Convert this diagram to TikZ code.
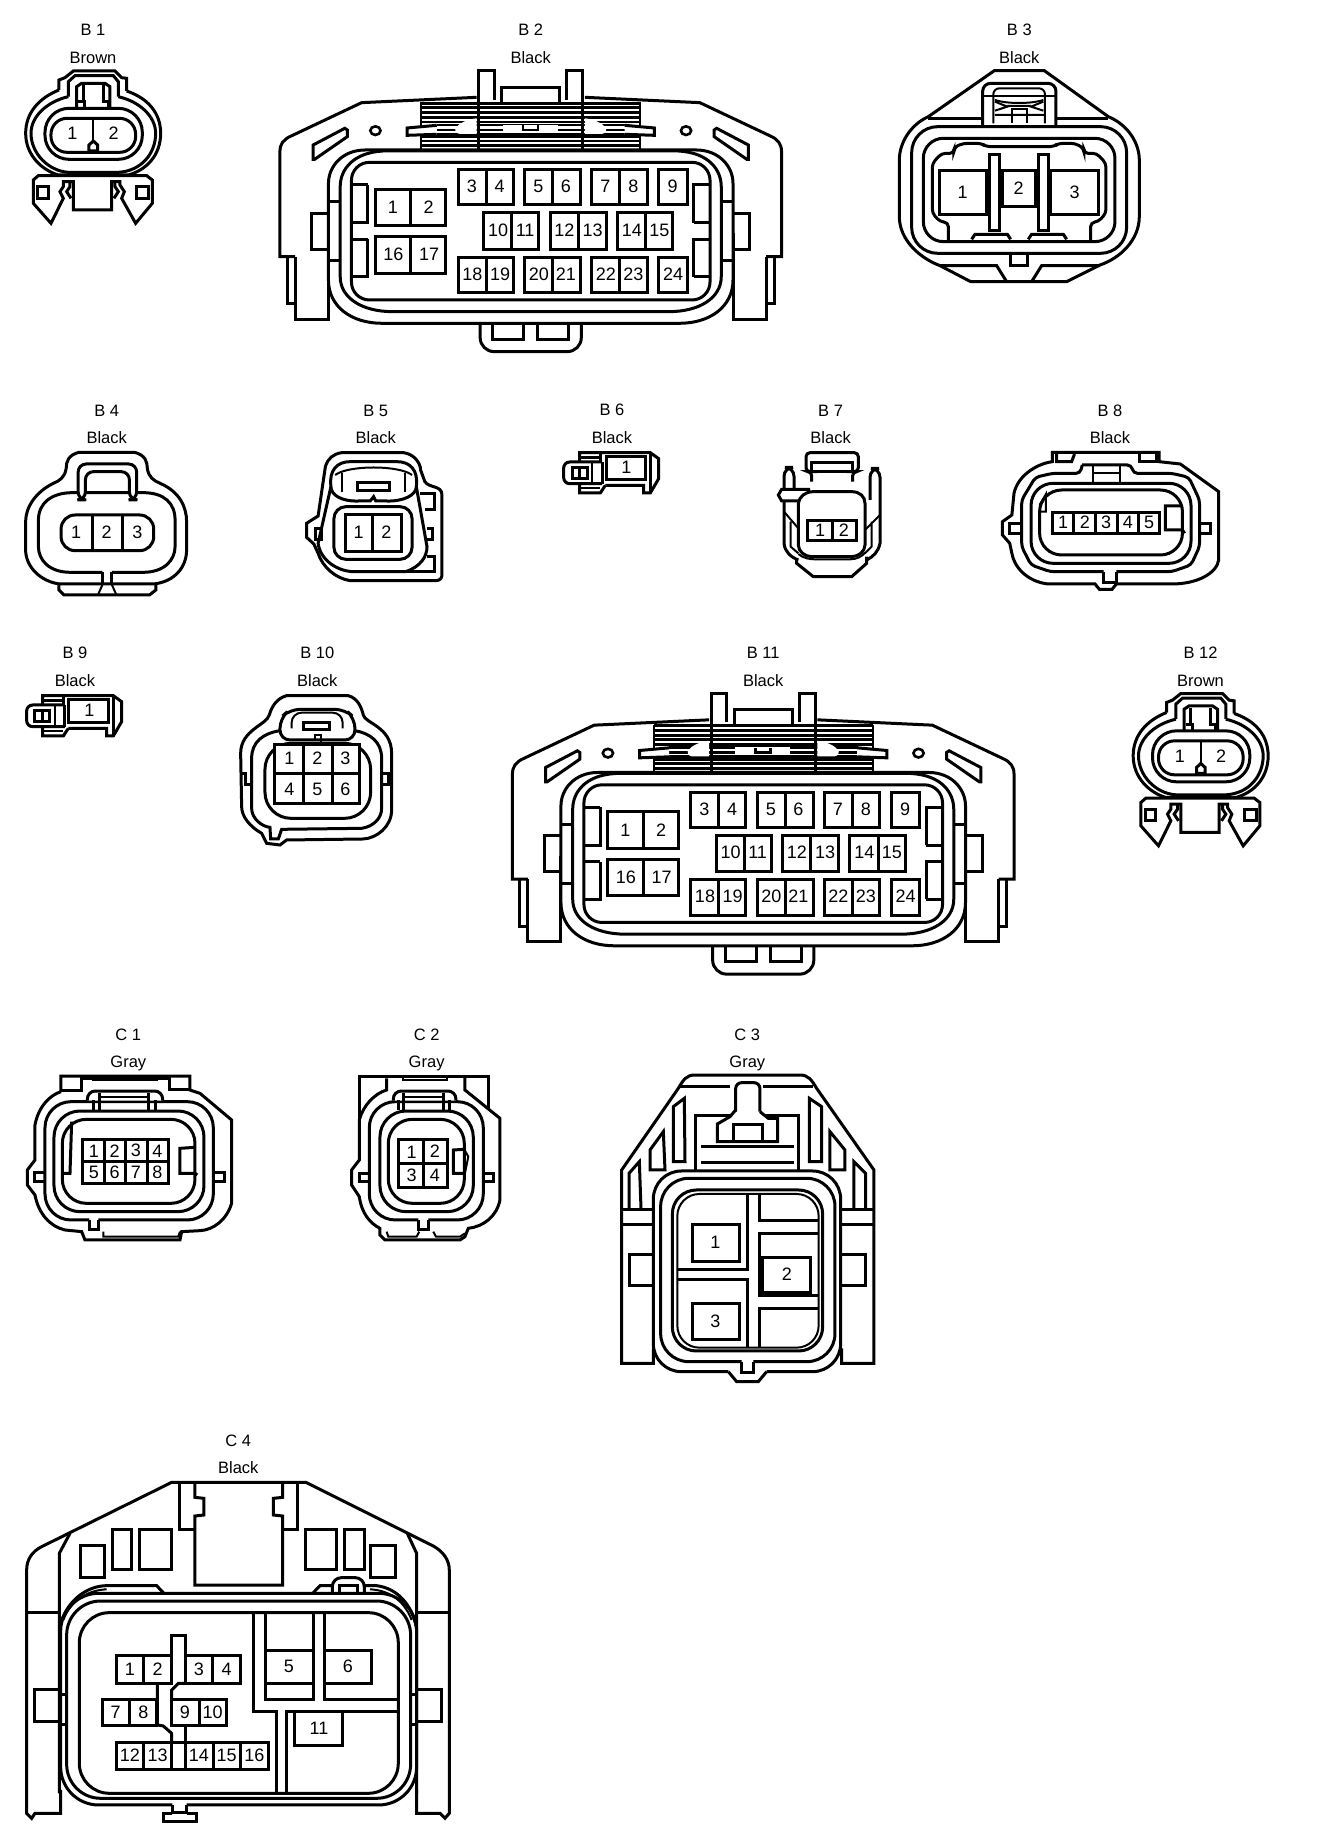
\documentclass[tikz,border=0pt]{standalone}
\usepackage{fontspec}
\setmainfont{Liberation Sans}
\tikzset{
  ttl/.style={inner sep=0pt,font=\fontsize{16.5}{18}\selectfont,text height=15.5pt,text depth=3pt},
  pin/.style={inner sep=0pt,font=\fontsize{18}{20}\selectfont},
  thin line/.style={line width=2pt},
  zone/.style={x=0.5108pt,y=-0.3333pt},
  ztri/.style={x=0.3333pt,y=-0.3333pt},
  zthree/.style={x=0.427pt,y=-0.3333pt},
  zfour/.style={x=0.4265pt,y=-0.3333pt}
}
\newcommand{\conBone}[5]{%
\begin{scope}[ztri,xshift=#2pt+15pt,yshift=-#3pt-65pt]
\node[ttl] (#1t) at (234,-107) {#4};
\node[ttl] (#1c) at (234,-23) {#5};
\draw (132,75) .. controls (70,100) and (32,145) .. (32,205) .. controls (32,270) and (80,315) .. (130,330) -- (340,330) .. controls (395,315) and (437,270) .. (437,205) .. controls (437,145) and (400,100) .. (335,78);
\draw (160,95) .. controls (95,110) and (48,155) .. (48,205) .. controls (48,265) and (100,318) .. (160,322) -- (310,322) .. controls (380,318) and (422,265) .. (422,205) .. controls (422,155) and (375,110) .. (310,95);
\draw (132,75)--(132,45)--(150,38)--(175,18)--(300,18)--(320,38)--(335,40)--(335,78);
\draw (160,95)--(160,50)--(180,32)--(295,32)--(310,50)--(310,95);
\draw (185,130)--(185,65)--(200,55)--(270,55)--(285,65)--(285,130);
\draw (205,60)--(205,110) (265,60)--(265,110);
\draw (190,110)--(210,110)--(210,130) (260,110)--(280,110)--(280,130);
\draw[fill=white,rounded corners=24pt] (90,130) rectangle (382,283);
\draw[rounded corners=16pt] (108,160) rectangle (362,262);
\draw[thin line] (235,160)--(235,235);
\draw[fill=white] (222,258)--(222,240)--(235,228)--(248,240)--(248,258)--cycle;
\node[pin] (#1p1) at (172,205) {1};
\node[pin] (#1p2) at (296,205) {2};
\draw (55,345)--(70,332)--(395,332)--(412,345)--(412,415)--(362,475)--(320,400)--(328,380)--(315,360)--(315,350)--(290,350)--(290,435)--(175,435)--(175,350)--(145,350)--(145,365)--(135,380)--(145,400)--(108,475)--(55,415)--cycle;
\draw (165,350)--(165,365)--(155,380)--(168,400);
\draw (300,350)--(300,365)--(310,380)--(297,400);
\draw (68,365) rectangle (100,400);
\draw (365,365) rectangle (402,400);
\end{scope}}
\newcommand{\conBtwo}[5]{%
\begin{scope}[zone,xshift=#2pt,yshift=-#3pt]
\node[ttl] (#1t) at (1039,88) {#4};
\node[ttl] (#1c) at (1039,172) {#5};
\draw (937,300)--(937,212)--(968,212)--(968,300);
\draw (1110,300)--(1110,212)--(1141,212)--(1141,300);
\draw (982,305)--(982,262)--(1096,262)--(1096,305);
\draw (578,770)--(548,770)--(548,455) .. controls (548,432) and (555,418) .. (570,408)--(708,308)--(933,292);
\draw (1500,770)--(1530,770)--(1530,455) .. controls (1530,432) and (1523,418) .. (1508,408)--(1370,308)--(1145,292);
\draw (562,770)--(562,912)--(578,912);
\draw (578,770)--(578,958)--(643,958)--(643,700);
\draw (1516,770)--(1516,912)--(1500,912);
\draw (1500,770)--(1500,958)--(1435,958)--(1435,700);
\foreach \yy in {310,323,338,352,366,410,423,437,450}{\draw[line width=2.7pt] (825,\yy)--(1253,\yy);}
\foreach \yy in {375,390,402}{\draw[line width=2.7pt] (855,\yy)--(1225,\yy);}
\draw[thin line] (825,307)--(825,450) (1253,307)--(1253,450);
\fill[white] (891,385) .. controls (900,368) and (915,358) .. (933,355)--(933,402)--(900,402) .. controls (893,400) and (889,392) .. (891,385)--cycle;
\fill[white] (1187,385) .. controls (1178,368) and (1163,358) .. (1145,355)--(1145,402)--(1178,402) .. controls (1185,400) and (1189,392) .. (1187,385)--cycle;
\draw (937,296)--(937,450) (1141,296)--(1141,450);
\draw[fill=white] (855,376)--(797,384)--(797,406)--(855,403);
\draw[fill=white] (1223,376)--(1281,384)--(1281,406)--(1223,403);
\fill[white] (984,375) rectangle (1092,402);
\draw[thin line] (984,402)--(1092,402);
\draw[line width=2.4pt] (1024,376)--(1024,390)--(1053,390)--(1053,376);
\draw[line width=2.6pt] (735,392) ellipse (10 and 13);
\draw[line width=2.6pt] (1343,392) ellipse (10 and 13);
\draw (613,478)--(613,435)--(675,385)--(680,390)--(680,410)--(616,478)--cycle;
\draw (1465,478)--(1465,435)--(1403,385)--(1398,390)--(1398,410)--(1462,478)--cycle;
\draw (643,640)--(610,640)--(610,748)--(643,748);
\draw (1435,640)--(1468,640)--(1468,748)--(1435,748);
\draw[fill=white] (643,550) .. controls (643,500) and (670,450) .. (715,450)--(1363,450) .. controls (1408,450) and (1435,500) .. (1435,550)--(1435,840) .. controls (1435,920) and (1390,970) .. (1330,970)--(748,970) .. controls (688,970) and (643,920) .. (643,840)--cycle;
\draw (666,560) .. controls (666,510) and (690,458) .. (750,453)--(1328,453) .. controls (1388,458) and (1412,510) .. (1412,560)--(1412,830) .. controls (1412,895) and (1368,935) .. (1310,935)--(768,935) .. controls (710,935) and (666,895) .. (666,830)--cycle;
\draw[rounded corners=18pt] (688,487) rectangle (1390,900);
\draw (720,555)--(688,555) (688,668)--(720,668)--(720,555);
\draw (720,718)--(688,718) (688,830)--(720,830)--(720,718);
\draw (1358,668)--(1358,555)--(1390,555) (1358,668)--(1390,668);
\draw (1358,830)--(1358,718)--(1390,718) (1358,830)--(1390,830);
\foreach \yy in {605,783}{\draw (643,\yy)--(666,\yy); \draw (1412,\yy)--(1435,\yy);}
\draw (735,568) rectangle (873,678) (804,568)--(804,678);
\draw (735,710) rectangle (873,820) (804,710)--(804,820);
\draw (897,510) rectangle (1005,615) (952,510)--(952,615);
\draw (1027,510) rectangle (1137,615) (1082,510)--(1082,615);
\draw (1158,510) rectangle (1267,615) (1213,510)--(1213,615);
\draw (1290,510) rectangle (1345,615);
\draw (947,638) rectangle (1055,748) (1002,638)--(1002,748);
\draw (1077,638) rectangle (1187,748) (1132,638)--(1132,748);
\draw (1208,638) rectangle (1317,748) (1264,638)--(1264,748);
\draw (897,772) rectangle (1005,878) (952,772)--(952,878);
\draw (1027,772) rectangle (1137,878) (1082,772)--(1082,878);
\draw (1158,772) rectangle (1267,878) (1213,772)--(1213,878);
\draw (1290,772) rectangle (1345,878);
\node[pin] (#1p1) at (769,622) {1};
\node[pin] (#1p2) at (839,622) {2};
\node[pin] (#1p16) at (770,764) {16};
\node[pin] (#1p17) at (840,764) {17};
\node[pin] (#1p3) at (924,560) {3};
\node[pin] (#1p4) at (978,560) {4};
\node[pin] (#1p5) at (1054,560) {5};
\node[pin] (#1p6) at (1108,560) {6};
\node[pin] (#1p7) at (1185,560) {7};
\node[pin] (#1p8) at (1240,560) {8};
\node[pin] (#1p9) at (1317,560) {9};
\node[pin] (#1p10) at (975,690) {10};
\node[pin] (#1p11) at (1028,690) {11};
\node[pin] (#1p12) at (1105,690) {12};
\node[pin] (#1p13) at (1160,690) {13};
\node[pin] (#1p14) at (1237,690) {14};
\node[pin] (#1p15) at (1291,690) {15};
\node[pin] (#1p18) at (925,822) {18};
\node[pin] (#1p19) at (979,822) {19};
\node[pin] (#1p20) at (1055,822) {20};
\node[pin] (#1p21) at (1108,822) {21};
\node[pin] (#1p22) at (1186,822) {22};
\node[pin] (#1p23) at (1240,822) {23};
\node[pin] (#1p24) at (1318,822) {24};
\draw[rounded corners=14pt] (940,972)--(940,1055)--(1138,1055)--(1138,972);
\draw (965,975)--(965,1018)--(1025,1018)--(1025,975);
\draw (1053,975)--(1053,1018)--(1113,1018)--(1113,975);
\end{scope}}
\newcommand{\conBsix}[5]{%
\begin{scope}[ztri,xshift=#2pt,yshift=-#3pt]
\node[ttl] (#1t) at (225,68) {#4};
\node[ttl] (#1c) at (225,152) {#5};
\draw (128,225)--(128,197)--(340,197)--(365,215)--(365,275)--(340,318)--(320,318)--(320,295)--(205,295);
\draw (340,197)--(340,318);
\draw (128,212)--(190,212) (190,197)--(190,225);
\draw[rounded corners=6pt] (195,225)--(80,225)--(80,290)--(195,290);
\draw[thin line] (165,225)--(165,290);
\draw (105,243) rectangle (150,275) (128,243)--(128,275);
\draw (128,290)--(128,318)--(190,318)--(205,295);
\draw[thin line] (128,304)--(190,304);
\draw[fill=white] (207,210) rectangle (325,278);
\draw (195,225)--(195,290);
\node[pin] (#1p1) at (268,242) {1};
\end{scope}}
\begin{document}
\begin{tikzpicture}[x=1pt,y=-1pt,line width=3pt,line join=miter]
\fill[white] (0,0) rectangle (1328,1838);
\useasboundingbox (0,0) rectangle (1328,1838);
% B1, B12
\conBone{ba}{0}{0}{B 1}{Brown}
\conBone{bl}{1107.5}{622.5}{B 12}{Brown}
% B2, B11
\conBtwo{bb}{0}{0}{B 2}{Black}
\conBtwo{bk}{232.5}{622.5}{B 11}{Black}
% B3
\begin{scope}[ztri,xshift=800pt]
\node[ttl] (bct) at (658,88) {B 3};
\node[ttl] (bcc) at (658,172) {Black};
\draw (583,212)--(733,212)--(925,350) .. controls (985,375) and (1018,430) .. (1018,480)--(1018,650) .. controls (1018,720) and (960,775) .. (900,795)--(800,845)--(512,845)--(420,797) .. controls (360,775) and (298,720) .. (298,650)--(298,480) .. controls (298,430) and (330,375) .. (385,350)--cycle;
\draw (385,355)--(548,355) (770,355)--(925,355);
\draw[rounded corners=26pt] (335,380) rectangle (980,760);
\draw[rounded corners=20pt] (370,415) rectangle (945,725);
\draw[rounded corners=4pt] (445,725)--(445,668)--(420,665)--(397,640)--(397,490)--(425,460)--(462,460)--(462,442)--(490,430)--(545,430)--(558,440)--(762,440)--(775,430)--(825,430)--(852,445)--(852,460)--(890,460)--(918,490)--(918,640)--(895,665)--(872,668)--(872,725);
\draw[rounded corners=8pt] (548,375)--(548,250)--(768,250)--(768,375);
\draw[thin line] (548,288)--(768,288);
\draw[rounded corners=6pt,thin line] (580,370)--(580,265)--(735,265)--(735,370);
\draw[thin line] (585,300) .. controls (620,312) and (695,312) .. (730,300);
\draw[thin line] (585,345)--(735,345) (585,305)--(622,320)--(585,332) (730,305)--(693,320)--(730,332) (622,318)--(693,318);
\draw[thin line] (635,368)--(635,328)--(682,328)--(682,368);
\draw (418,513) rectangle (560,643);
\draw (608,513) rectangle (708,620);
\draw (752,513) rectangle (897,643);
\draw (570,465) rectangle (600,692);
\draw (716,465) rectangle (745,692);
\draw (515,718)--(525,703)--(622,703)--(632,718);
\draw (685,718)--(695,703)--(790,703)--(800,718);
\draw (632,762)--(632,797)--(682,797)--(682,762);
\draw (420,797)--(590,797)--(620,845) (695,845)--(725,797)--(900,797);
\node[pin] (bcp1) at (488,577) {1};
\node[pin] (bcp2) at (656,564) {2};
\node[pin] (bcp3) at (824,577) {3};
\end{scope}
% B4
\begin{scope}[zthree,yshift=-390pt]
\node[ttl] (bdt) at (250,62) {B 4};
\node[ttl] (bdc) at (250,143) {Black};
\draw (185,187)--(315,187) .. controls (340,195) and (345,215) .. (345,235) .. controls (348,262) and (360,272) .. (375,280) .. controls (420,305) and (437,350) .. (437,395)--(437,480) .. controls (437,530) and (410,575) .. (360,582)--(140,582) .. controls (95,575) and (60,530) .. (60,480)--(60,395) .. controls (60,350) and (85,305) .. (125,280) .. controls (140,272) and (152,262) .. (155,235) .. controls (155,215) and (160,195) .. (185,187)--cycle;
\draw (240,547)--(165,547) .. controls (115,547) and (90,510) .. (90,470)--(90,390) .. controls (90,340) and (120,308) .. (170,308)--(335,308) .. controls (385,308) and (410,340) .. (410,390)--(410,470) .. controls (410,510) and (385,547) .. (335,547)--(262,547);
\draw (240,547)--(240,582) (262,582)--(262,547);
\draw[rounded corners=8pt,fill=white] (183,330)--(183,222)--(320,222)--(320,330)--(303,330)--(303,245)--(200,245)--(200,330)--cycle;
\draw (183,330)--(200,330) (303,330)--(320,330);
\draw[rounded corners=14pt] (143,375) rectangle (360,482);
\draw (217,375)--(217,482) (287,375)--(287,482);
\node[pin] (bdp1) at (178,428) {1};
\node[pin] (bdp2) at (250,428) {2};
\node[pin] (bdp3) at (322,428) {3};
\draw (138,584)--(138,600)--(150,615)--(350,615)--(365,600)--(365,584);
\draw[thin line] (230,613)--(240,584) (272,613)--(262,584);
\end{scope}
% B5
\begin{scope}[zthree,yshift=-390pt]
\node[ttl] (bet) at (880,62) {B 5};
\node[ttl] (bec) at (880,143) {Black};
\draw (800,188)--(945,188) .. controls (970,192) and (985,220) .. (985,240)--(995,275) .. controls (1005,295) and (1035,285) .. (1035,315)--(1035,555) .. controls (1035,565) and (1030,572) .. (1020,572)--(820,572) .. controls (785,565) and (755,530) .. (745,490)--(735,462)--(718,442)--(718,400)--(745,378)--(762,230) .. controls (768,205) and (780,192) .. (800,188)--cycle;
\draw (983,312)--(1018,312)--(1018,358)--(995,358);
\draw (1000,500)--(1018,500)--(1018,545)--(950,545);
\draw (775,290)--(745,460) .. controls (750,510) and (790,545) .. (830,545)--(950,545) .. controls (985,530) and (1000,500) .. (1000,470)--(975,290);
\draw[fill=white] (775,290) .. controls (770,240) and (790,215) .. (820,215)--(930,215) .. controls (960,215) and (980,240) .. (975,290) .. controls (975,315) and (945,335) .. (905,333)--(880,333)--(875,320)--(867,333)--(840,333) .. controls (800,335) and (775,315) .. (775,290)--cycle;
\draw[thin line] (802,250)--(802,305) (948,250)--(948,305);
\draw[thin line] (785,255) .. controls (815,225) and (935,225) .. (965,255);
\draw (837,277) rectangle (912,303);
\draw[rounded corners=12pt] (782,350) rectangle (965,508);
\draw (808,375) rectangle (940,485) (873,375)--(873,485);
\node[pin] (bep1) at (840,428) {1};
\node[pin] (bep2) at (905,428) {2};
\draw (738,415)--(738,450)--(752,450)--(752,415)--cycle;
\draw (1000,415)--(1012,415)--(1012,450)--(1000,450);
\end{scope}
% B6, B9
\conBsix{bf}{537}{387}{B 6}{Black}
\conBsix{bi}{0}{630}{B 9}{Black}
% B7
\begin{scope}[zfour,xshift=660pt,yshift=-390pt]
\node[ttl] (bgt) at (400,62) {B 7};
\node[ttl] (bgc) at (400,143) {Black};
\end{scope}
\begin{scope}[ztri,xshift=770pt,yshift=-440pt]
\draw[rounded corners=4pt] (125,125)--(125,95)--(108,95)--(108,38)--(265,38)--(265,95)--(248,95)--(248,125);
\draw (125,68) rectangle (248,95);
\draw[rounded corners=9pt] (42,150)--(42,82)--(72,82)--(72,150);
\draw[rounded corners=9pt] (300,180)--(300,85)--(330,85)--(330,240);
\draw (120,148)--(35,148)--(25,165)--(35,183)--(85,183);
\draw (42,183)--(42,310) .. controls (45,335) and (60,350) .. (85,360);
\draw (330,240)--(330,310) .. controls (325,335) and (310,350) .. (290,360);
\draw[thin line] (42,215)--(85,265) (330,225)--(285,270) (62,245)--(62,320)--(85,340) (305,245)--(305,320)--(285,340);
\draw (80,360)--(80,370)--(130,410)--(245,410)--(290,370)--(290,350);
\draw[thin line] (85,342) .. controls (100,355) and (120,358) .. (135,358)--(240,358) .. controls (260,358) and (275,350) .. (285,338);
\draw[fill=white] (85,190) .. controls (88,170) and (105,155) .. (130,155)--(245,155) .. controls (270,155) and (285,170) .. (285,190)--(285,315) .. controls (285,335) and (265,350) .. (245,350)--(125,350) .. controls (105,350) and (85,335) .. (85,315)--cycle;
\draw (112,242) rectangle (260,302) (188,242)--(188,302);
\node[pin] (bgp1) at (150,272) {1};
\node[pin] (bgp2) at (222,272) {2};
\end{scope}
% B8
\begin{scope}[zfour,xshift=660pt,yshift=-390pt]
\node[ttl] (bht) at (1055,62) {B 8};
\node[ttl] (bhc) at (1055,143) {Black};
\draw (920,215)--(920,187)--(1170,187)--(1170,215)--(1220,222)--(1310,305)--(1310,510) .. controls (1305,550) and (1260,582) .. (1200,582)--(1070,582)--(1060,598)--(1030,598)--(1020,582)--(910,582) .. controls (860,575) and (830,530) .. (825,490)--(820,460)--(803,435)--(803,395)--(825,375)--(830,310) .. controls (838,260) and (880,222) .. (920,215)--cycle;
\draw[rounded corners=4pt] (990,225)--(985,250)--(920,250)--(880,262)--(848,330)--(848,470)--(870,525)--(915,545)--(1040,545);
\draw[rounded corners=4pt] (990,225)--(1105,225)--(1110,250)--(1200,250)--(1240,262)--(1265,330)--(1265,470)--(1245,525)--(1200,545)--(1070,545);
\draw (1040,545)--(1040,578)--(1070,578)--(1070,545);
\draw (930,192)--(930,215)--(965,215)--(972,192);
\draw (1125,192)--(1125,215)--(1165,215)--(1165,192);
\draw[thin line] (1015,225)--(1015,280) (1078,225)--(1078,280) (1015,250)--(1078,250);
\draw[rounded corners=22pt] (870,280) rectangle (1245,520);
\draw[rounded corners=22pt] (890,300) rectangle (1225,495);
\draw[thin line] (890,345)--(905,312)--(905,365)--(890,365);
\draw (920,368) rectangle (1172,432);
\foreach \xx in {970,1022,1072,1122}{\draw (\xx,368)--(\xx,432);}
\node[pin] (bhp1) at (945,398) {1};
\node[pin] (bhp2) at (996,398) {2};
\node[pin] (bhp3) at (1046,398) {3};
\node[pin] (bhp4) at (1097,398) {4};
\node[pin] (bhp5) at (1147,398) {5};
\draw (1225,348)--(1185,348)--(1185,420)--(1225,420)--(1230,430);
\draw (848,400)--(820,400)--(820,432)--(848,432);
\draw (1265,400)--(1290,400)--(1290,432)--(1265,432);
\end{scope}
% B10
\begin{scope}[ztri,yshift=-630pt]
\node[ttl] (bjt) at (952,68) {B 10};
\node[ttl] (bjc) at (952,152) {Black};
\draw (860,197)--(1045,197) .. controls (1075,205) and (1085,235) .. (1090,255) .. controls (1095,280) and (1175,290) .. (1175,370)--(1175,540) .. controls (1175,590) and (1130,625) .. (1090,627)--(860,630)--(840,645)--(800,640)--(785,610) .. controls (750,590) and (725,560) .. (725,530)--(722,370) .. controls (722,300) and (800,285) .. (808,255) .. controls (815,230) and (830,205) .. (860,197)--cycle;
\draw (840,302) .. controls (790,310) and (755,335) .. (755,385)--(755,535) .. controls (755,565) and (785,590) .. (810,592)--(812,627)--(835,627)--(845,598)--(1085,595) .. controls (1120,590) and (1145,565) .. (1145,535)--(1145,385) .. controls (1145,335) and (1110,310) .. (1065,302);
\draw[rounded corners=10pt,fill=white] (840,330)--(840,265)--(870,238)--(1035,238)--(1065,265)--(1065,330)--cycle;
\draw[thin line,rounded corners=10pt] (875,295)--(875,248)--(1028,248)--(1028,295);
\draw (912,278) rectangle (990,298);
\draw[thin line] (945,330)--(945,315)--(962,315)--(962,340);
\draw[rounded corners=26pt] (795,340) rectangle (1112,565);
\draw[fill=white] (825,345) rectangle (1080,522);
\draw (912,345)--(912,522) (998,345)--(998,522) (825,432)--(1080,432);
\node[pin] (bjp1) at (868,385) {1};
\node[pin] (bjp2) at (952,385) {2};
\node[pin] (bjp3) at (1036,385) {3};
\node[pin] (bjp4) at (868,478) {4};
\node[pin] (bjp5) at (952,478) {5};
\node[pin] (bjp6) at (1036,478) {6};
\draw (725,430)--(738,430)--(738,465)--(755,465);
\draw (1145,430)--(1165,430)--(1165,465)--(1145,465);
\end{scope}
% C1
\begin{scope}[ztri,yshift=-1010pt]
\node[ttl] (cat) at (385,72) {C 1};
\node[ttl] (cac) at (385,155) {Gray};
\draw (183,245)--(183,198)--(570,198)--(570,240)--(600,250)--(695,330)--(695,580) .. controls (680,630) and (640,660) .. (600,662)--(545,665)--(540,690)--(255,690)--(245,665)--(195,660) .. controls (150,650) and (115,610) .. (105,555)--(82,525)--(82,480)--(105,450)--(105,345) .. controls (115,290) and (150,255) .. (183,245);
\draw (183,240)--(245,240)--(245,205)--(510,205)--(510,238)--(570,238);
\draw[thin line] (280,205)--(280,211)--(470,211)--(470,205);
\draw[rounded corners=26pt] (268,630)--(135,630)--(135,275)--(640,275)--(640,630)--(295,630);
\draw (268,630)--(268,660)--(295,660)--(295,630);
\draw[fill=white,rounded corners=8pt] (262,272)--(262,243)--(488,243)--(488,272);
\draw (282,270)--(282,300) (298,250)--(298,300) (445,250)--(445,300) (468,270)--(468,300);
\draw[thin line] (298,262)--(445,262) (298,275)--(445,275);
\draw[rounded corners=26pt,fill=white] (162,303) rectangle (612,605);
\draw[rounded corners=24pt] (187,328) rectangle (585,580);
\draw (215,335)--(210,490)--(190,490);
\draw (248,390) rectangle (505,522);
\foreach \xx in {313,378,442}{\draw (\xx,390)--(\xx,522);}
\draw (248,456)--(505,456);
\node[pin] (cap1) at (282,424) {1};
\node[pin] (cap2) at (344,424) {2};
\node[pin] (cap3) at (408,422) {3};
\node[pin] (cap4) at (472,424) {4};
\node[pin] (cap5) at (282,488) {5};
\node[pin] (cap6) at (344,488) {6};
\node[pin] (cap7) at (408,488) {7};
\node[pin] (cap8) at (472,488) {8};
\draw (585,412)--(540,415)--(540,490)--(585,490)--(592,495);
\draw (135,488)--(105,488)--(105,515)--(135,515);
\draw (640,488)--(675,488)--(675,515)--(640,515);
\draw[thin line] (310,665)--(310,680)--(535,680)--(540,665);
\end{scope}
% C2
\begin{scope}[ztri,yshift=-1010pt]
\node[ttl] (cbt) at (1280,72) {C 2};
\node[ttl] (cbc) at (1280,155) {Gray};
\draw (1078,330)--(1078,200)--(1465,200)--(1465,298);
\draw (1395,200)--(1395,240)--(1500,325)--(1500,570) .. controls (1490,620) and (1450,650) .. (1405,655)--(1395,680)--(1380,690)--(1155,690)--(1140,675)--(1140,655) .. controls (1110,640) and (1085,610) .. (1078,560)--(1055,525)--(1055,480)--(1078,450)--(1078,330) .. controls (1090,285) and (1125,250) .. (1160,240)--(1160,205);
\draw[thin line] (1210,205)--(1210,211)--(1340,211)--(1340,205);
\draw[rounded corners=26pt] (1255,630)--(1108,630)--(1108,275)--(1450,275)--(1450,630)--(1285,630);
\draw (1255,630)--(1255,660)--(1285,660)--(1285,630);
\draw[fill=white,rounded corners=8pt] (1180,272)--(1180,243)--(1368,243)--(1368,272);
\draw (1195,270)--(1195,300) (1212,250)--(1212,300) (1330,250)--(1330,300) (1350,270)--(1350,300);
\draw[thin line] (1212,262)--(1330,262) (1212,275)--(1330,275);
\draw[rounded corners=26pt,fill=white] (1140,303) rectangle (1420,605);
\draw[rounded corners=24pt] (1165,328) rectangle (1393,580);
\draw (1197,390) rectangle (1343,533) (1270,390)--(1270,533) (1197,462)--(1343,462);
\node[pin] (cbp1) at (1235,426) {1};
\node[pin] (cbp2) at (1305,424) {2};
\node[pin] (cbp3) at (1235,495) {3};
\node[pin] (cbp4) at (1305,495) {4};
\draw (1393,418)--(1360,420)--(1360,490)--(1395,490);
\draw[thin line] (1393,418)--(1405,440)--(1395,490);
\draw (1108,490)--(1078,490)--(1078,515)--(1108,515);
\draw (1450,490)--(1480,490)--(1480,515)--(1450,515);
\draw[thin line] (1160,665)--(1165,680)--(1250,680)--(1258,665);
\draw[thin line] (1300,665)--(1308,680)--(1380,680)--(1395,670);
\end{scope}
% C3
\begin{scope}[ztri,xshift=600pt,yshift=-1010pt]
\node[ttl] (cct) at (442,72) {C 3};
\node[ttl] (ccc) at (442,155) {Gray};
\draw (160,1015)--(160,1060)--(65,1060)--(65,480)--(235,235) .. controls (250,210) and (258,195) .. (285,195)--(600,195) .. controls (625,195) and (635,210) .. (650,235)--(822,480)--(822,1060)--(725,1060)--(725,1015);
\draw (240,230)--(390,230) (490,230)--(640,230);
\draw[rounded corners=6pt] (407,305)--(407,218)--(480,218)--(480,305);
\draw (407,300)--(390,320)--(352,342)--(352,395)--(533,395)--(533,325)--(505,325)--(480,305);
\draw (400,395)--(400,342)--(487,342)--(487,395);
\draw (288,480)--(288,317)--(392,317) (495,317)--(597,317)--(597,480);
\draw (303,410)--(583,410) (303,457)--(583,457);
\draw (220,455)--(220,290)--(253,265)--(255,455)--cycle;
\draw (628,265)--(665,290)--(665,455)--(628,455)--cycle;
\draw (150,480)--(150,420)--(190,365)--(195,480)--cycle;
\draw (690,365)--(735,420)--(735,480)--(690,480)--cycle;
\draw (87,595)--(87,490)--(118,455)--(123,595);
\draw (762,595)--(762,455)--(797,490)--(797,595);
\draw (65,598)--(158,598) (725,598)--(822,598) (65,645)--(158,645) (725,645)--(822,645);
\draw (158,735)--(87,735)--(87,828)--(158,828);
\draw (725,735)--(797,735)--(797,828)--(725,828);
\draw[rounded corners=28pt,fill=white] (385,1085)--(160,1085)--(160,483)--(722,483)--(722,1085)--(500,1085);
\draw (385,1085)--(410,1115)--(475,1115)--(500,1085);
\draw[rounded corners=28pt] (425,1055)--(182,1055)--(182,505)--(705,505)--(705,1055)--(460,1055);
\draw (425,1055)--(425,1088)--(460,1088)--(460,1055);
\draw[rounded corners=24pt] (217,540) rectangle (668,1023);
\draw[rounded corners=22pt,thin line] (232,552) rectangle (656,1013);
\draw (443,553)--(443,778)--(232,778) (232,808)--(443,808)--(443,1015);
\draw (478,553)--(478,632)--(655,632) (655,670)--(478,670)--(478,858)--(655,858) (655,895)--(478,895)--(478,1015);
\draw (276,645) rectangle (420,755);
\draw (488,743) rectangle (633,848);
\draw (276,882) rectangle (420,988);
\node[pin] (ccp1) at (346,698) {1};
\node[pin] (ccp2) at (561,793) {2};
\node[pin] (ccp3) at (346,933) {3};
\end{scope}
% C4
\begin{scope}[ztri,yshift=-1420pt]
\node[ttl] (cdt) at (715,62) {C 4};
\node[ttl] (cdc) at (715,143) {Black};
\draw (182,1110)--(182,1180)--(105,1180)--(95,1195)--(80,1180)--(80,450) .. controls (80,420) and (95,395) .. (125,380)--(515,187)--(918,187)--(1300,378) .. controls (1330,395) and (1348,420) .. (1348,450)--(1348,1180)--(1335,1195)--(1320,1180)--(1250,1180)--(1250,1110);
\draw (178,1120)--(178,400)--(210,340) (1250,1120)--(1250,400)--(1222,340);
\draw (80,578)--(178,578) (1250,578)--(1348,578);
\draw (178,808)--(105,808)--(105,905)--(178,905);
\draw (1250,808)--(1325,808)--(1325,905)--(1250,905);
\draw (180,825)--(200,825) (180,915)--(200,915) (1232,825)--(1250,825) (1232,915)--(1250,915);
\draw (538,190)--(538,328)--(585,328);
\draw (585,190)--(585,232)--(612,235)--(612,285)--(585,288)--(585,495)--(848,495)--(848,288)--(820,285)--(820,235)--(848,232)--(848,190);
\draw (848,328)--(892,328)--(892,190);
\draw (243,375) rectangle (315,472);
\draw (337,328) rectangle (395,448);
\draw (418,328) rectangle (515,448);
\draw (917,328) rectangle (1010,448);
\draw (1033,328) rectangle (1093,448);
\draw (1113,375) rectangle (1188,472);
\draw (178,625) .. controls (195,545) and (260,497) .. (320,497)--(470,497)--(490,518);
\draw (940,518)--(960,497)--(1000,497) (1095,497)--(1130,497) .. controls (1190,505) and (1235,550) .. (1250,625);
\draw[thin line] (190,600) .. controls (215,535) and (270,510) .. (320,508) (1235,600) .. controls (1210,535) and (1160,510) .. (1110,508);
\draw[rounded corners=9pt] (997,518)--(997,473)--(1093,473)--(1093,518);
\draw (1020,518)--(1020,495)--(1073,495)--(1073,518);
\draw[rounded corners=38pt] (517,1155)--(182,1155)--(182,520)--(1250,520)--(1250,1155)--(560,1155);
\draw (517,1155)--(517,1178)--(560,1178)--(560,1155);
\draw (517,1180)--(490,1180)--(490,1205)--(590,1205)--(590,1180)--(560,1180);
\draw[rounded corners=34pt] (200,543) rectangle (1232,1135);
\draw[rounded corners=30pt] (238,578) rectangle (1195,1120);
\draw (350,707) rectangle (515,790);
\draw (557,707) rectangle (722,790);
\draw (430,707)--(430,790) (637,707)--(637,790);
\draw (515,707)--(515,648)--(557,648)--(557,790);
\draw (307,838) rectangle (470,918) (390,838)--(390,918);
\draw (515,838) rectangle (680,918) (598,838)--(598,918);
\draw (350,967) rectangle (805,1050);
\foreach \xx in {432,515,557,640,722}{\draw (\xx,967)--(\xx,1050);}
\draw (472,790)--(472,915)--(490,918)--(515,940)--(515,967);
\draw (557,790)--(535,790)--(515,810)--(515,838);
\draw (557,918)--(557,967);
\draw (762,578)--(762,875)--(830,875)--(830,1118);
\draw (797,578)--(797,838)--(940,838)--(940,578);
\draw (975,578)--(975,838)--(1193,838);
\draw (860,1118)--(860,875)--(1193,875);
\draw (797,692)--(940,692) (797,790)--(940,790);
\draw (975,692)--(1115,692)--(1115,790)--(975,790);
\draw (885,875)--(885,978)--(1028,978)--(1028,875);
\node[pin] (cdp1) at (390,748) {1};
\node[pin] (cdp2) at (473,748) {2};
\node[pin] (cdp3) at (597,748) {3};
\node[pin] (cdp4) at (680,748) {4};
\node[pin] (cdp5) at (867,740) {5};
\node[pin] (cdp6) at (1044,740) {6};
\node[pin] (cdp7) at (347,878) {7};
\node[pin] (cdp8) at (430,878) {8};
\node[pin] (cdp9) at (555,878) {9};
\node[pin] (cdp10) at (638,878) {10};
\node[pin] (cdp11) at (957,925) {11};
\node[pin] (cdp12) at (390,1006) {12};
\node[pin] (cdp13) at (473,1006) {13};
\node[pin] (cdp14) at (597,1006) {14};
\node[pin] (cdp15) at (680,1006) {15};
\node[pin] (cdp16) at (763,1006) {16};
\end{scope}
\end{tikzpicture}
\end{document}
